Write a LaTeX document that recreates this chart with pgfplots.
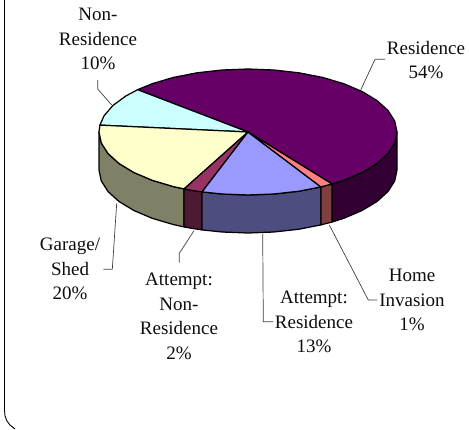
\documentclass[border=0pt]{standalone}
\usepackage{pgfplots}
\pgfplotsset{compat=1.18}
\usepackage{fontspec}
\setmainfont{Liberation Serif}
\definecolor{resT}{HTML}{660066}
\definecolor{resS}{HTML}{330033}
\definecolor{nonT}{HTML}{CCFFFF}
\definecolor{garT}{HTML}{FFFFCC}
\definecolor{garS}{HTML}{808066}
\definecolor{anrT}{HTML}{993366}
\definecolor{anrS}{HTML}{4D1A33}
\definecolor{arsT}{HTML}{9999FF}
\definecolor{arsS}{HTML}{4D4D80}
\definecolor{homT}{HTML}{FF8080}
\definecolor{homS}{HTML}{804040}
\tikzset{
  pie/.style={draw=black, line width=1.25pt},
  lead/.style={draw=black!75, line width=0.7pt},
  lab/.style={align=center, inner sep=0pt, font=\fontsize{19}{24.5}\selectfont, text=black!95},
}
\begin{document}
\begin{tikzpicture}
\path[use as bounding box] (0,0) rectangle (469pt,429pt);
\begin{axis}[
  at={(0,0)}, anchor=south west,
  scale only axis, width=469pt, height=429pt,
  xmin=0, xmax=469, ymin=0, ymax=429, y dir=reverse,
  hide axis, clip=true,
  every axis plot/.append style={mark=none, line join=round},
]
% frame
\addplot[draw=black, line width=0.9pt] coordinates {(4.5,0) (4.5,410) (5,416) (7,421) (10,425) (15,429)};
% sides
\addplot[pie, fill=resS] coordinates {(332.1,184.0) (343.8,180.3) (362.1,172.5) (377.0,163.5) (388.0,153.5) (394.7,143.0) (397,132)
 (397,170) (394.7,181.0) (388.0,191.5) (377.0,201.5) (362.1,210.5) (343.8,218.3) (332.1,222.0)} -- cycle;
\addplot[pie, fill=garS] coordinates {(99,132) (101.3,143.0) (108.0,153.5) (119.0,163.5) (133.9,172.5) (152.2,180.3) (173.5,186.6) (184.1,188.9)
 (184.1,226.9) (173.5,224.6) (152.2,218.3) (133.9,210.5) (119.0,201.5) (108.0,191.5) (101.3,181.0) (99,170)} -- cycle;
\addplot[pie, fill=anrS] coordinates {(184.1,188.9) (192.2,190.4) (202.0,191.9) (202.0,229.9) (192.2,228.4) (184.1,226.9)} -- cycle;
\addplot[pie, fill=arsS] coordinates {(202.0,191.9) (222.1,194.0) (248,195) (273.9,194.0) (299.0,191.2) (320.9,186.9)
 (320.9,224.9) (299.0,229.2) (273.9,232.0) (248,233) (222.1,232.0) (202.0,229.9)} -- cycle;
\addplot[pie, fill=homS] coordinates {(320.9,186.9) (332.1,184.0) (332.1,222.0) (320.9,224.9)} -- cycle;
% top faces
\addplot[pie, fill=resT] coordinates {(248,132) (332.1,184.0) (343.8,180.3) (362.1,172.5) (377.0,163.5) (388.0,153.5) (394.7,143.0) (397,132)
 (394.7,121.0) (388.0,110.5) (377.0,100.5) (362.1,91.5) (343.8,83.7) (322.5,77.4) (299.0,72.8) (273.9,70.0) (248,69)
 (222.1,70.0) (197.0,72.8) (173.5,77.4) (152.2,83.7) (137.6,89.7)} -- cycle;
\addplot[pie, fill=nonT] coordinates {(248,132) (137.6,89.7) (126.0,95.9) (113.0,105.4) (104.1,115.7) (99.9,125.1)} -- cycle;
\addplot[pie, fill=garT] coordinates {(248,132) (99.9,125.1) (99,132) (101.3,143.0) (108.0,153.5) (119.0,163.5) (133.9,172.5) (152.2,180.3) (173.5,186.6) (184.1,188.9)} -- cycle;
\addplot[pie, fill=anrT] coordinates {(248,132) (184.1,188.9) (192.2,190.4) (202.0,191.9)} -- cycle;
\addplot[pie, fill=arsT] coordinates {(248,132) (202.0,191.9) (222.1,194.0) (248,195) (273.9,194.0) (299.0,191.2) (320.9,186.9)} -- cycle;
\addplot[pie, fill=homT] coordinates {(248,132) (320.9,186.9) (332.1,184.0)} -- cycle;
% leaders
\addplot[lead] coordinates {(385,59.3) (375,59.3) (360.7,90)};
\addplot[lead] coordinates {(97.7,80) (97.7,89) (111.7,105)};
\addplot[lead] coordinates {(103.3,269.3) (112.3,269.3) (116.7,203.3)};
\addplot[lead] coordinates {(179.3,262.7) (179.3,253.3) (194,230.7)};
\addplot[lead] coordinates {(262.7,234) (263.3,321.7) (273.3,321.7)};
\addplot[lead] coordinates {(329.3,225) (368.3,300) (377.3,300)};
% labels
\node[lab] at (axis cs:98,39) {Non-\\Residence\\10\%};
\node[lab] at (axis cs:426,60) {Residence\\54\%};
\node[lab] at (axis cs:70,269) {Garage/\\Shed\\20\%};
\node[lab] at (axis cs:179,316.5) {Attempt:\\Non-\\Residence\\2\%};
\node[lab] at (axis cs:314,322) {Attempt:\\Residence\\13\%};
\node[lab] at (axis cs:412,300) {Home\\Invasion\\1\%};
\end{axis}
\end{tikzpicture}
\end{document}
